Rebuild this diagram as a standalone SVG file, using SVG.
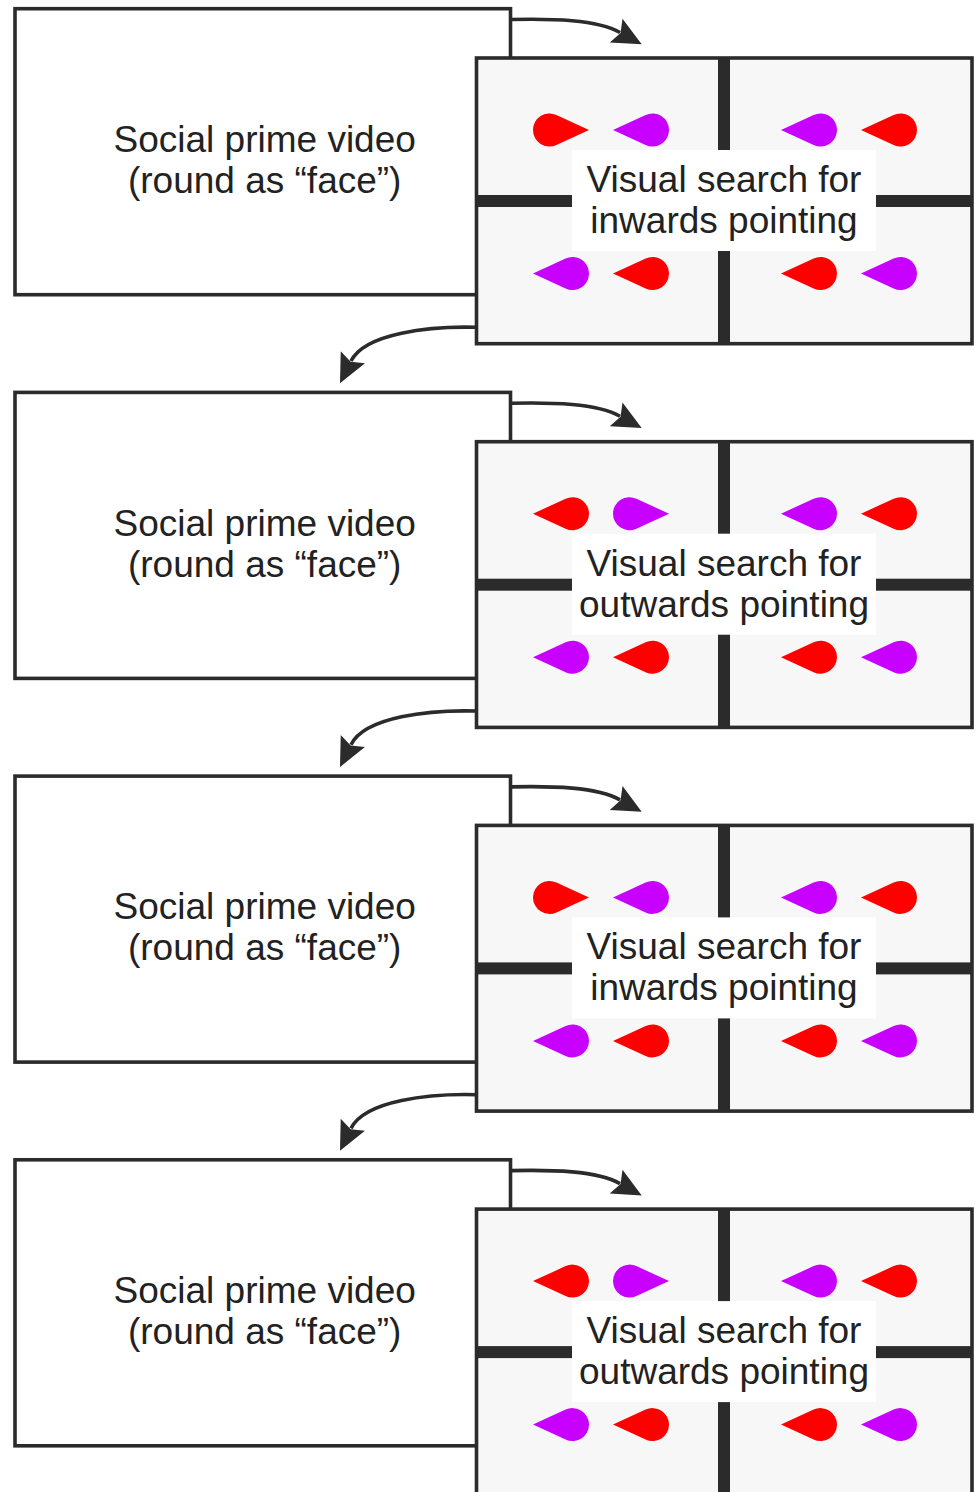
<svg xmlns="http://www.w3.org/2000/svg" xmlns:xlink="http://www.w3.org/1999/xlink" width="975" height="1492" viewBox="0 0 975 1492">
<style>
.box{fill:#ffffff;stroke:#2b2b2b;stroke-width:3.6}
.panel{fill:#f7f7f7;stroke:#2b2b2b;stroke-width:3.6}
.bar{fill:#2b2b2b}
.tbg{fill:#ffffff}
.lbl{font-family:"Liberation Sans",Arial,sans-serif;font-size:37px;fill:#222222;text-anchor:middle}
.red{fill:#ff0000}
.pur{fill:#c800ff}
.conn{fill:none;stroke:#2b2b2b;stroke-width:3.6}
.head{fill:#2b2b2b}
</style>
<defs>
<path id="dropR" d="M 39.5 0 L 6.89 -14.99 A 16.5 16.5 0 1 0 6.89 14.99 Z"/>
<path id="dropL" d="M -39.5 0 L -6.89 -14.99 A 16.5 16.5 0 1 1 -6.89 14.99 Z"/>
<path id="head" d="M 0 0 L -29 -13.5 L -24 0 L -29 13.5 Z"/>
<g id="panelBase">
<rect class="panel" x="476.5" y="58" width="495.5" height="285.7"/>
<rect class="bar" x="718" y="58" width="12" height="285.7"/>
<rect class="bar" x="476.5" y="195" width="495.5" height="12"/>
<rect class="tbg" x="572" y="150" width="304" height="101"/>
</g>
<g id="bottomRow">
<use href="#dropL" x="572.5" y="273.5" class="pur"/>
<use href="#dropL" x="652.5" y="273.5" class="red"/>
<use href="#dropL" x="820.5" y="273.5" class="red"/>
<use href="#dropL" x="900.5" y="273.5" class="pur"/>
</g>
</defs>

<g id="prime-1">
<rect class="box" x="15" y="8.7" width="495.5" height="286"/>
<text class="lbl" x="264.7" y="152">Social prime video</text>
<text class="lbl" x="264.7" y="193">(round as “face”)</text>
</g>
<g id="search-1">
<use href="#panelBase"/>
<use href="#dropR" x="549.5" y="130" class="red"/>
<use href="#dropL" x="652.5" y="130" class="pur"/>
<use href="#dropL" x="820.5" y="130" class="pur"/>
<use href="#dropL" x="900.5" y="130" class="red"/>
<use href="#bottomRow"/>
<text class="lbl" x="724" y="192">Visual search for</text>
<text class="lbl" x="724" y="233">inwards pointing</text>
</g>

<g id="prime-2" transform="translate(0 383.7)">
<rect class="box" x="15" y="8.7" width="495.5" height="286"/>
<text class="lbl" x="264.7" y="152">Social prime video</text>
<text class="lbl" x="264.7" y="193">(round as “face”)</text>
</g>
<g id="search-2" transform="translate(0 383.7)">
<use href="#panelBase"/>
<use href="#dropL" x="572.5" y="130" class="red"/>
<use href="#dropR" x="629.5" y="130" class="pur"/>
<use href="#dropL" x="820.5" y="130" class="pur"/>
<use href="#dropL" x="900.5" y="130" class="red"/>
<use href="#bottomRow"/>
<text class="lbl" x="724" y="192">Visual search for</text>
<text class="lbl" x="724" y="233">outwards pointing</text>
</g>

<g id="prime-3" transform="translate(0 767.4)">
<rect class="box" x="15" y="8.7" width="495.5" height="286"/>
<text class="lbl" x="264.7" y="152">Social prime video</text>
<text class="lbl" x="264.7" y="193">(round as “face”)</text>
</g>
<g id="search-3" transform="translate(0 767.4)">
<use href="#panelBase"/>
<use href="#dropR" x="549.5" y="130" class="red"/>
<use href="#dropL" x="652.5" y="130" class="pur"/>
<use href="#dropL" x="820.5" y="130" class="pur"/>
<use href="#dropL" x="900.5" y="130" class="red"/>
<use href="#bottomRow"/>
<text class="lbl" x="724" y="192">Visual search for</text>
<text class="lbl" x="724" y="233">inwards pointing</text>
</g>

<g id="prime-4" transform="translate(0 1151.1)">
<rect class="box" x="15" y="8.7" width="495.5" height="286"/>
<text class="lbl" x="264.7" y="152">Social prime video</text>
<text class="lbl" x="264.7" y="193">(round as “face”)</text>
</g>
<g id="search-4" transform="translate(0 1151.1)">
<use href="#panelBase"/>
<use href="#dropL" x="572.5" y="130" class="red"/>
<use href="#dropR" x="629.5" y="130" class="pur"/>
<use href="#dropL" x="820.5" y="130" class="pur"/>
<use href="#dropL" x="900.5" y="130" class="red"/>
<use href="#bottomRow"/>
<text class="lbl" x="724" y="192">Visual search for</text>
<text class="lbl" x="724" y="233">outwards pointing</text>
</g>

<g id="connectors">
<g id="c-prime1-search1">
<path class="conn" d="M 510.5 19.5 C 552 18.5, 597 19.5, 620 32.5"/>
<use href="#head" class="head" transform="translate(641.7 44.3) rotate(28.2)"/>
</g>
<g id="c-search1-prime2">
<path class="conn" d="M 476.5 327.3 C 430 326, 365 333, 351 361"/>
<use href="#head" class="head" transform="translate(340 383.3) rotate(116.3)"/>
</g>
<g id="c-prime2-search2" transform="translate(0 383.7)">
<path class="conn" d="M 510.5 19.5 C 552 18.5, 597 19.5, 620 32.5"/>
<use href="#head" class="head" transform="translate(641.7 44.3) rotate(28.2)"/>
</g>
<g id="c-search2-prime3" transform="translate(0 383.7)">
<path class="conn" d="M 476.5 327.3 C 430 326, 365 333, 351 361"/>
<use href="#head" class="head" transform="translate(340 383.3) rotate(116.3)"/>
</g>
<g id="c-prime3-search3" transform="translate(0 767.4)">
<path class="conn" d="M 510.5 19.5 C 552 18.5, 597 19.5, 620 32.5"/>
<use href="#head" class="head" transform="translate(641.7 44.3) rotate(28.2)"/>
</g>
<g id="c-search3-prime4" transform="translate(0 767.4)">
<path class="conn" d="M 476.5 327.3 C 430 326, 365 333, 351 361"/>
<use href="#head" class="head" transform="translate(340 383.3) rotate(116.3)"/>
</g>
<g id="c-prime4-search4" transform="translate(0 1151.1)">
<path class="conn" d="M 510.5 19.5 C 552 18.5, 597 19.5, 620 32.5"/>
<use href="#head" class="head" transform="translate(641.7 44.3) rotate(28.2)"/>
</g>
</g>
</svg>
